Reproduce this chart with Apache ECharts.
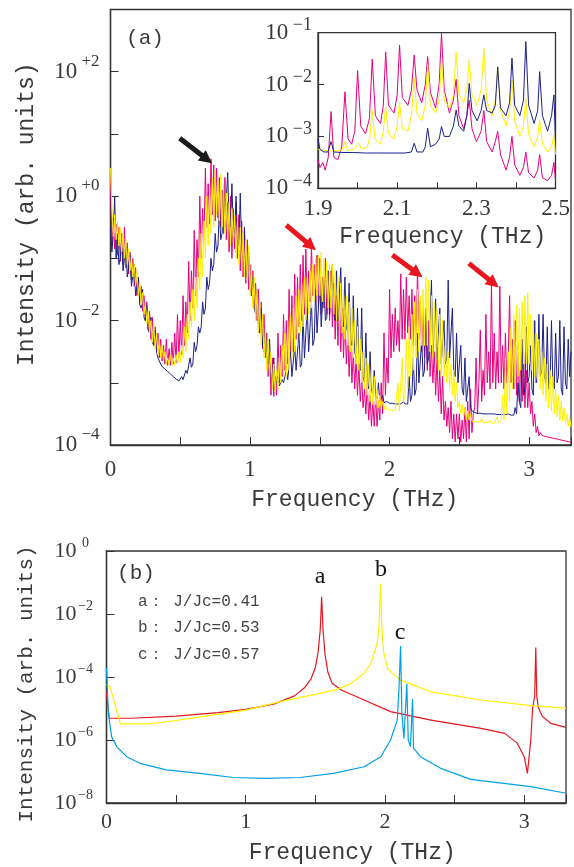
<!DOCTYPE html>
<html><head><meta charset="utf-8">
<script src="https://cdn.jsdelivr.net/npm/echarts@6/dist/echarts.min.js"></script>
<style>html,body{margin:0;padding:0;background:#fff}#c{width:574px;height:867px}</style>
</head><body><div id="c"></div>
<script>
// ---------- Panel (a): frequency grid (THz) and log10 intensities ----------
const freqA = [
0,0.01,0.02,0.03,0.04,0.05,0.06,0.07,0.08,0.09,
0.1,0.11,0.12,0.13,0.14,0.15,0.16,0.17,0.18,0.19,
0.2,0.21,0.22,0.23,0.24,0.25,0.26,0.27,0.28,0.29,
0.3,0.31,0.32,0.33,0.34,0.35,0.36,0.37,0.38,0.39,
0.4,0.41,0.42,0.43,0.44,0.45,0.46,0.47,0.48,0.49,
0.5,0.51,0.52,0.53,0.54,0.55,0.56,0.57,0.58,0.59,
0.6,0.61,0.62,0.63,0.64,0.65,0.66,0.67,0.68,0.69,
0.7,0.71,0.72,0.73,0.74,0.75,0.76,0.77,0.78,0.79,
0.8,0.81,0.82,0.83,0.84,0.85,0.86,0.87,0.88,0.89,
0.9,0.91,0.92,0.93,0.94,0.95,0.96,0.97,0.98,0.99,
1,1.01,1.02,1.03,1.04,1.05,1.06,1.07,1.08,1.09,
1.1,1.11,1.12,1.13,1.14,1.15,1.16,1.17,1.18,1.19,
1.2,1.21,1.22,1.23,1.24,1.25,1.26,1.27,1.28,1.29,
1.3,1.31,1.32,1.33,1.34,1.35,1.36,1.37,1.38,1.39,
1.4,1.41,1.42,1.43,1.44,1.45,1.46,1.47,1.48,1.49,
1.5,1.51,1.52,1.53,1.54,1.55,1.56,1.57,1.58,1.59,
1.6,1.61,1.62,1.63,1.64,1.65,1.66,1.67,1.68,1.69,
1.7,1.71,1.72,1.73,1.74,1.75,1.76,1.77,1.78,1.79,
1.8,1.81,1.82,1.83,1.84,1.85,1.86,1.87,1.88,1.89,
1.9,1.91,1.92,1.93,1.94,1.95,1.96,1.97,1.98,1.99,
2,2.01,2.02,2.03,2.04,2.05,2.06,2.07,2.08,2.09,
2.1,2.11,2.12,2.13,2.14,2.15,2.16,2.17,2.18,2.19,
2.2,2.21,2.22,2.23,2.24,2.25,2.26,2.27,2.28,2.29,
2.3,2.31,2.32,2.33,2.34,2.35,2.36,2.37,2.38,2.39,
2.4,2.41,2.42,2.43,2.44,2.45,2.46,2.47,2.48,2.49,
2.5,2.51,2.52,2.53,2.54,2.55,2.56,2.57,2.58,2.59,
2.6,2.61,2.62,2.63,2.64,2.65,2.66,2.67,2.68,2.69,
2.7,2.71,2.72,2.73,2.74,2.75,2.76,2.77,2.78,2.79,
2.8,2.81,2.82,2.83,2.84,2.85,2.86,2.87,2.88,2.89,
2.9,2.91,2.92,2.93,2.94,2.95,2.96,2.97,2.98,2.99,
3,3.01,3.02,3.03,3.04,3.05,3.06,3.07,3.08,3.09,
3.1,3.11,3.12,3.13,3.14,3.15,3.16,3.17,3.18,3.19,
3.2,3.21,3.22,3.23,3.24,3.25,3.26,3.27,3.28,3.29,
3.3];

const magentaLog = [
0.3,-0.8,-0.35,-0.85,-0.45,-0.95,-0.5,-1.05,-0.6,-1.1,
-0.5,-1.15,-0.75,-1.25,-0.9,-1.35,-1.0,-1.45,-1.15,-1.6,
-1.3,-1.7,-1.45,-1.85,-1.6,-2.0,-1.7,-2.15,-1.85,-2.3,
-1.95,-2.4,-2.1,-2.5,-2.2,-2.6,-2.3,-2.65,-2.4,-2.7,
-2.3,-2.72,-2.45,-2.72,-2.35,-2.7,-2.2,-2.68,-1.9,-2.6,
-2.0,-2.55,-1.6,-2.4,-1.7,-2.2,-1.05,-2.0,-1.2,-1.8,
-0.55,-1.6,-0.7,-1.3,0.0,-1.0,-0.2,-0.7,0.45,-0.5,
0.2,-0.45,0.6,-0.3,0.5,-0.4,0.45,-0.35,0.3,-0.5,
0.1,-0.6,0.3,-0.7,-0.1,-0.9,0.0,-1.0,-0.2,-0.85,
-0.1,-1.0,-0.3,-1.2,-0.4,-1.3,-0.6,-1.4,-0.7,-1.5,
-1.1,-1.6,-1.2,-1.8,-1.4,-2.0,-1.5,-2.2,-1.7,-2.45,
-1.9,-2.6,-2.2,-2.9,-2.5,-3.2,-2.6,-3.22,-2.9,-3.2,
-2.2,-3.0,-2.4,-2.9,-1.9,-2.8,-2.0,-2.7,-1.5,-2.5,
-1.6,-2.5,-1.25,-2.3,-1.3,-2.1,-1.1,-2.0,-0.95,-1.9,
-0.85,-1.8,-1.2,-1.7,-0.8,-1.6,-1.1,-1.7,-0.95,-1.8,
-1.0,-1.9,-1.3,-1.8,-1.0,-1.9,-1.25,-2.0,-1.2,-2.1,
-1.4,-2.3,-1.6,-2.4,-1.5,-2.5,-1.8,-2.6,-1.9,-2.7,
-2.2,-2.9,-2.3,-3.0,-2.5,-3.1,-2.6,-3.2,-2.7,-3.3,
-2.9,-3.4,-3.1,-3.5,-3.0,-3.6,-3.2,-3.7,-3.3,-3.7,
-3.2,-3.7,-3.3,-3.6,-3.0,-3.5,-2.2,-3.2,-2.6,-3.0,
-1.5,-2.6,-1.9,-2.5,-1.8,-2.4,-2.0,-2.5,-1.25,-2.3,
-1.5,-2.3,-1.3,-2.2,-1.6,-2.3,-1.5,-2.4,-1.6,-2.4,
-1.15,-2.3,-1.7,-2.5,-1.8,-2.6,-1.9,-2.8,-2.0,-2.9,
-2.4,-3.0,-2.5,-3.2,-2.6,-3.3,-2.8,-3.5,-2.9,-3.6,
-3.3,-3.7,-3.4,-3.8,-3.3,-3.9,-3.5,-3.95,-3.5,-3.9,
-3.5,-3.95,-3.6,-3.9,-3.4,-3.95,-3.3,-3.9,-3.1,-3.8,
-3.5,-3.4,-2.6,-3.5,-3.0,-2.15,-3.3,-2.8,-3.2,-1.9,
-3.0,-2.5,-3.1,-1.4,-3.0,-2.2,-3.1,-2.5,-3.0,-1.45,
-3.0,-2.4,-3.1,-2.2,-3.0,-2.6,-1.6,-3.0,-2.3,-3.1,
-2.0,-3.2,-2.4,-3.3,-2.6,-3.3,-2.5,-3.4,-2.8,-3.4,
-3.0,-3.5,-3.3,-3.7,-3.5,-3.8,-3.7,-3.85,-3.8,-3.84,
-3.85,-3.86,-3.86,-3.87,-3.87,-3.88,-3.88,-3.89,-3.89,-3.9,
-3.9,-3.91,-3.91,-3.92,-3.92,-3.93,-3.94,-3.94,-3.95,-3.95,
-3.96];

const yellowLog = [
0.45,-0.2,-0.65,-0.3,-0.7,-0.4,-0.8,-0.5,-0.9,-0.6,
-1.0,-0.7,-1.1,-0.85,-1.2,-0.95,-1.3,-1.1,-1.45,-1.2,
-1.6,-1.4,-1.75,-1.55,-1.9,-1.7,-2.05,-1.85,-2.2,-2.0,
-2.35,-2.05,-2.45,-2.2,-2.55,-2.3,-2.6,-2.4,-2.65,-2.5,
-2.7,-2.6,-2.72,-2.55,-2.72,-2.6,-2.72,-2.55,-2.7,-2.5,
-2.68,-2.4,-2.6,-2.1,-2.5,-1.9,-2.3,-1.7,-2.1,-1.5,
-2.0,-1.3,-1.8,-1.0,-1.5,-0.6,-1.3,-0.4,-1.0,0.0,
-0.8,0.1,-0.6,0.3,-0.5,0.42,-0.3,0.25,-0.4,0.35,
-0.5,0.2,-0.6,0.05,-0.7,-0.1,-0.8,-0.2,-0.75,-0.3,
-1.0,-0.4,-1.1,-0.5,-1.2,-0.6,-1.3,-0.7,-1.35,-0.8,
-1.6,-1.1,-1.8,-1.3,-2.0,-1.5,-2.2,-1.7,-2.4,-1.9,
-2.6,-2.1,-2.8,-2.3,-2.9,-2.5,-3.1,-2.7,-3.15,-2.8,
-3.1,-2.6,-3.0,-2.4,-2.9,-2.2,-2.9,-2.0,-2.8,-1.9,
-2.6,-1.8,-2.5,-1.6,-2.4,-1.5,-2.2,-1.4,-2.1,-1.3,
-2.0,-1.3,-1.9,-1.2,-1.8,-1.1,-1.7,-1.0,-1.6,-0.95,
-1.6,-0.9,-1.7,-1.0,-1.7,-1.05,-1.8,-1.1,-1.8,-1.1,
-1.9,-1.2,-2.0,-1.3,-2.1,-1.4,-2.2,-1.5,-2.3,-1.6,
-2.4,-1.7,-2.5,-1.8,-2.6,-2.0,-2.7,-2.1,-2.8,-2.3,
-3.0,-2.5,-3.1,-2.6,-3.2,-2.7,-3.3,-2.8,-3.35,-2.9,
-3.35,-3.1,-3.4,-3.2,-3.42,-3.3,-3.43,-3.35,-3.43,-3.4,
-3.44,-3.44,-3.44,-3.44,-3.44,-3.44,-3.0,-3.45,-3.44,-2.6,
-3.3,-3.2,-2.3,-3.1,-2.1,-2.9,-1.9,-2.8,-1.7,-2.6,
-1.5,-2.5,-1.6,-2.4,-1.5,-2.4,-1.3,-2.4,-1.35,-2.5,
-1.6,-2.6,-1.7,-2.7,-1.8,-2.8,-1.9,-2.9,-2.0,-2.9,
-2.4,-3.0,-2.5,-3.1,-2.7,-3.2,-2.8,-3.3,-3.0,-3.4,
-3.3,-3.5,-3.35,-3.55,-3.4,-3.6,-3.45,-3.6,-3.5,-3.62,
-3.62,-3.62,-3.62,-3.63,-3.63,-3.63,-3.58,-3.64,-3.64,-3.64,
-3.64,-3.64,-3.6,-3.65,-3.65,-3.65,-3.65,-3.55,-3.65,-3.65,
-3.6,-3.2,-3.6,-2.6,-3.5,-2.5,-3.3,-2.1,-3.1,-1.9,
-3.0,-1.75,-2.9,-1.8,-2.8,-1.7,-2.7,-1.6,-2.7,-1.55,
-2.7,-1.9,-2.8,-2.0,-2.9,-2.2,-3.0,-2.3,-3.1,-2.5,
-3.2,-2.6,-3.3,-2.7,-3.4,-2.8,-3.45,-2.9,-3.5,-3.1,
-3.55,-3.2,-3.6,-3.3,-3.62,-3.4,-3.65,-3.5,-3.7,-3.55,
-3.71];

const navyLog = [
-0.5,-0.9,-0.6,0.0,-1.0,-0.6,-1.1,-1.0,-0.7,-1.2,
-1.2,-0.8,-1.3,-1.3,-0.95,-1.45,-1.45,-1.1,-1.6,-1.6,
-1.3,-1.75,-1.8,-1.5,-1.95,-2.0,-1.75,-2.15,-2.2,-1.95,
-2.35,-2.4,-2.15,-2.5,-2.6,-2.65,-2.7,-2.74,-2.76,-2.78,
-2.8,-2.82,-2.84,-2.86,-2.88,-2.9,-2.92,-2.94,-2.96,-2.97,
-2.98,-2.9,-2.95,-2.93,-2.8,-2.85,-2.85,-2.6,-2.75,-2.7,
-2.35,-2.5,-2.4,-2.1,-2.2,-2.1,-1.7,-1.9,-1.8,-1.3,
-1.5,-1.4,-1.0,-1.2,-1.1,-0.6,-0.9,-0.8,-0.2,-0.7,
-0.6,0.1,-0.5,-0.5,0.38,-0.45,-0.5,0.2,-0.55,-0.6,
0.0,-0.7,-0.8,0.05,-0.9,-1.0,-0.5,-1.2,-1.3,-0.9,
-1.5,-1.6,-1.3,-1.8,-1.9,-1.5,-2.1,-2.2,-1.8,-2.4,
-2.5,-2.1,-2.6,-2.7,-2.3,-2.9,-3.0,-2.6,-3.06,-3.06,
-2.9,-3.05,-3.05,-2.95,-3.0,-3.0,-2.8,-2.95,-2.95,-2.5,
-2.9,-2.9,-2.4,-2.8,-2.8,-2.2,-2.75,-2.7,-1.9,-2.6,
-2.6,-1.8,-2.5,-2.5,-1.7,-2.4,-2.3,-1.5,-2.2,-2.2,
-1.4,-2.1,-2.1,-1.3,-2.0,-1.95,-1.2,-1.9,-1.9,-1.1,
-1.9,-2.0,-1.2,-2.0,-2.0,-1.15,-2.0,-2.1,-1.3,-2.1,
-2.2,-1.4,-2.3,-2.4,-1.6,-2.5,-2.6,-1.8,-2.7,-2.8,
-1.8,-2.9,-3.0,-2.2,-3.0,-3.1,-2.5,-3.1,-3.2,-2.8,
-3.2,-3.25,-3.0,-3.3,-3.3,-3.2,-3.32,-3.33,-3.3,-3.33,
-3.33,-3.33,-3.33,-3.33,-3.34,-3.34,-3.34,-3.34,-3.34,-3.34,
-3.3,-3.34,-3.34,-3.34,-2.9,-3.3,-3.2,-2.6,-3.2,-3.1,
-2.2,-3.0,-3.0,-2.3,-2.9,-2.8,-1.8,-2.7,-2.6,-2.0,
-1.35,-2.6,-2.6,-1.65,-2.6,-2.6,-1.8,-2.7,-2.7,-2.0,
-2.7,-2.6,-1.35,-2.6,-2.6,-1.8,-2.8,-2.9,-2.2,-3.0,
-3.0,-2.4,-3.1,-3.2,-2.6,-3.3,-3.3,-2.9,-3.4,-3.45,
-3.48,-3.48,-3.48,-3.49,-3.49,-3.49,-3.49,-3.5,-3.5,-3.5,
-3.5,-3.5,-3.5,-3.5,-3.5,-3.5,-3.51,-3.51,-3.51,-3.51,
-3.51,-3.51,-3.5,-3.51,-3.51,-3.5,-3.52,-3.52,-3.52,-3.52,
-3.4,-3.5,-3.0,-3.3,-3.4,-2.3,-3.2,-3.1,-2.1,-3.0,
-2.9,-2.4,-3.1,-3.2,-2.0,-3.0,-2.9,-1.9,-2.9,-2.8,
-1.9,-2.9,-3.0,-2.1,-3.1,-3.0,-2.0,-3.0,-3.1,-2.2,
-3.0,-2.9,-2.0,-3.1,-3.2,-2.1,-3.0,-3.1,-2.3,-2.9,
-2.5];

// ---------- Inset: [THz, log10 intensity] ----------
const insetMagenta = [[1.900,-3.45],[1.905,-3.6],[1.912,-3.5],[1.918,-3.65],[1.926,-3.4],[1.933,-2.52],[1.940,-3.4],[1.950,-3.45],[1.960,-3.2],[1.968,-2.14],[1.976,-3.05],[1.985,-3.15],[1.993,-2.9],[2.000,-1.73],[2.008,-2.8],[2.020,-2.95],[2.030,-2.65],[2.037,-1.51],[2.045,-2.6],[2.058,-2.75],[2.065,-2.4],[2.071,-1.37],[2.078,-2.4],[2.092,-2.55],[2.100,-2.2],[2.106,-1.24],[2.113,-2.25],[2.127,-2.4],[2.136,-2.1],[2.143,-1.43],[2.150,-2.1],[2.162,-2.35],[2.171,-2.0],[2.177,-1.46],[2.184,-2.15],[2.197,-2.45],[2.206,-2.0],[2.212,-1.01],[2.219,-2.1],[2.232,-2.55],[2.242,-2.3],[2.249,-1.9],[2.256,-2.6],[2.268,-2.85],[2.276,-2.6],[2.282,-2.3],[2.289,-2.85],[2.300,-3.1],[2.312,-2.9],[2.319,-2.5],[2.326,-3.1],[2.340,-3.3],[2.348,-3.1],[2.354,-2.9],[2.361,-3.35],[2.375,-3.65],[2.384,-3.4],[2.390,-3.0],[2.397,-3.55],[2.410,-3.75],[2.419,-3.6],[2.425,-3.3],[2.432,-3.7],[2.446,-3.8],[2.455,-3.65],[2.460,-3.35],[2.467,-3.8],[2.480,-3.85],[2.490,-3.75],[2.496,-3.5],[2.500,-3.85]];
const insetYellow = [[1.900,-3.25],[1.915,-3.27],[1.930,-3.28],[1.945,-3.28],[1.960,-3.27],[1.968,-3.1],[1.975,-3.27],[1.990,-3.25],[2.003,-3.13],[2.010,-3.25],[2.025,-3.2],[2.031,-3.0],[2.037,-2.5],[2.044,-3.05],[2.058,-3.15],[2.065,-2.9],[2.071,-2.43],[2.078,-2.95],[2.092,-3.05],[2.100,-2.8],[2.106,-2.33],[2.113,-2.85],[2.127,-2.9],[2.136,-2.6],[2.143,-1.88],[2.150,-2.55],[2.162,-2.7],[2.171,-2.4],[2.177,-1.62],[2.184,-2.4],[2.197,-2.55],[2.206,-2.3],[2.212,-1.53],[2.219,-2.3],[2.232,-2.45],[2.242,-2.2],[2.249,-1.37],[2.256,-2.2],[2.268,-2.35],[2.276,-2.1],[2.282,-1.53],[2.289,-2.2],[2.302,-2.4],[2.312,-2.1],[2.319,-1.30],[2.326,-2.3],[2.340,-2.6],[2.348,-2.3],[2.354,-1.66],[2.361,-2.5],[2.375,-2.8],[2.384,-2.5],[2.390,-1.91],[2.397,-2.7],[2.410,-3.0],[2.419,-2.8],[2.425,-2.27],[2.432,-2.95],[2.446,-3.2],[2.455,-3.0],[2.460,-2.68],[2.467,-3.15],[2.480,-3.3],[2.490,-3.2],[2.496,-2.97],[2.500,-3.35]];
const insetNavy = [[1.900,-3.05],[1.905,-3.25],[1.915,-3.3],[1.925,-3.3],[1.933,-3.1],[1.940,-3.3],[1.960,-3.31],[1.990,-3.31],[2.020,-3.32],[2.050,-3.32],[2.080,-3.32],[2.100,-3.32],[2.120,-3.32],[2.136,-3.3],[2.143,-3.13],[2.150,-3.3],[2.165,-3.3],[2.171,-3.2],[2.177,-2.84],[2.184,-3.2],[2.197,-3.15],[2.206,-3.05],[2.212,-2.81],[2.219,-3.0],[2.232,-3.0],[2.242,-2.8],[2.249,-2.49],[2.256,-2.8],[2.268,-2.9],[2.276,-2.6],[2.282,-1.98],[2.289,-2.5],[2.302,-2.7],[2.312,-2.5],[2.319,-2.2],[2.326,-2.5],[2.340,-2.55],[2.348,-2.4],[2.354,-1.66],[2.361,-2.45],[2.375,-2.6],[2.384,-2.35],[2.390,-1.49],[2.397,-2.4],[2.410,-2.6],[2.419,-2.3],[2.425,-1.17],[2.432,-2.4],[2.446,-2.75],[2.455,-2.5],[2.460,-1.75],[2.467,-2.6],[2.480,-2.9],[2.490,-2.6],[2.496,-2.2],[2.500,-3.1]];

// ---------- Panel (b): [THz, log10 intensity] ----------
const curveA041 = [[0,-4.47],[0.02,-5.31],[0.18,-5.31],[0.19,-5.27],[0.5,-5.24],[0.8,-5.13],[1.0,-5.03],[1.2,-4.86],[1.35,-4.6],[1.42,-4.35],[1.47,-4.05],[1.5,-3.7],[1.52,-3.2],[1.535,-2.5],[1.545,-1.45],[1.555,-2.5],[1.57,-3.3],[1.59,-3.85],[1.62,-4.2],[1.69,-4.42],[1.85,-4.73],[2.04,-5.1],[2.33,-5.37],[2.69,-5.63],[2.86,-5.79],[2.95,-6.1],[3.0,-6.53],[3.023,-7.06],[3.047,-6.0],[3.06,-5.0],[3.075,-4.6],[3.083,-3.06],[3.09,-4.6],[3.1,-4.95],[3.13,-5.25],[3.19,-5.47],[3.3,-5.6]];
const curveB053 = [[0,-4.25],[0.025,-4.3],[0.1,-5.49],[0.31,-5.49],[0.5,-5.38],[0.7,-5.25],[1.0,-5.05],[1.27,-4.76],[1.5,-4.55],[1.65,-4.4],[1.75,-4.22],[1.85,-3.88],[1.9,-3.55],[1.92,-3.27],[1.93,-3.33],[1.945,-2.9],[1.958,-2.3],[1.968,-1.03],[1.976,-2.3],[1.99,-3.2],[2.02,-3.75],[2.11,-4.1],[2.33,-4.47],[2.69,-4.73],[3.05,-4.91],[3.3,-4.99]];
const curveC057 = [[0,-3.72],[0.013,-5.14],[0.037,-5.9],[0.073,-6.21],[0.145,-6.53],[0.24,-6.74],[0.43,-6.95],[0.67,-7.06],[0.91,-7.19],[1.15,-7.22],[1.39,-7.19],[1.63,-7.06],[1.85,-6.85],[1.97,-6.53],[2.04,-6.0],[2.088,-5.37],[2.1,-4.41],[2.112,-3.02],[2.121,-5.15],[2.136,-5.95],[2.148,-6.0],[2.157,-4.22],[2.167,-6.0],[2.183,-6.21],[2.198,-4.71],[2.205,-6.26],[2.255,-6.53],[2.4,-6.9],[2.615,-7.25],[3.047,-7.48],[3.3,-7.69]];

// ---------- Annotations ----------
const arrowFrom = [[0.496,0.929],[1.259,-0.465],[2.02,-0.947],[2.568,-1.08]];
const arrowTo   = [[0.691,0.592],[1.437,-0.802],[2.199,-1.241],[2.746,-1.402]];
const legendLines = ['a\uFF1A J/Jc=0.41','b\uFF1A J/Jc=0.53','c\uFF1A J/Jc=0.57'];
const peakLabels = ['a','b','c'];

// ---------- Tick labels ----------
const mainXLabels = [0,1,2,3];
const insetXLabels = [1.9,2.1,2.3,2.5];
const mainYLabelExps = [-4,-2,0,2];
const insetYLabelExps = [-4,-3,-2,-1];
const bYLabelExps = [-8,-6,-4,-2,0];

const toPairs = (xs, ls) => xs.map((x,i)=>[x, Math.pow(10, ls[i])]);
const pairsPow = (arr) => arr.map(p=>[p[0], Math.pow(10, p[1])]);

const MONO = '"Liberation Mono", monospace';
const SERIF = '"Liberation Serif", serif';
const AX = '#333';
const TXT = '#3a3a3a';

function inList(v, list, tol){ return list.some(t=>Math.abs(t-v)<tol); }

const chart = echarts.init(document.getElementById('c'), null, {renderer:'canvas'});

const axisCommon = {
  axisLine:{show:true, lineStyle:{color:AX, width:1.3}},
  splitLine:{show:false},
};

const option = {
  animation:false,
  backgroundColor:'#fff',
  grid:[
    {left:110.5, top:9.5, width:461, height:435.5, show:true, borderColor:AX, borderWidth:1.3, backgroundColor:'transparent'},
    {left:318, top:32.7, width:237.5, height:155.6, show:true, borderColor:AX, borderWidth:1.3, backgroundColor:'#fff'},
    {left:106.5, top:551, width:459.5, height:252, show:true, borderColor:AX, borderWidth:1.3, backgroundColor:'transparent'}
  ],
  xAxis:[
    Object.assign({}, axisCommon, {
      gridIndex:0, type:'value', min:0, max:3.3, interval:0.5,
      axisTick:{inside:true, length:8, lineStyle:{color:AX}},
      axisLabel:{margin:13, fontSize:23, fontFamily:SERIF, color:TXT,
        formatter:v=> inList(v, mainXLabels, 1e-6) ? String(Math.round(v)) : ''},
      name:'Frequency (THz)', nameLocation:'middle', nameGap:43,
      nameTextStyle:{fontSize:23, fontFamily:MONO, color:TXT, padding:[0,0,0,28]}
    }),
    Object.assign({}, axisCommon, {
      gridIndex:1, type:'value', min:1.9, max:2.5, interval:0.1,
      axisTick:{inside:true, length:6, lineStyle:{color:AX}},
      axisLabel:{margin:9, fontSize:23, fontFamily:SERIF, color:TXT,
        formatter:v=> inList(v, insetXLabels, 1e-6) ? v.toFixed(1) : ''},
      name:'Frequency (THz)', nameLocation:'middle', nameGap:37,
      nameTextStyle:{fontSize:23, fontFamily:MONO, color:TXT, padding:[0,0,0,12]}
    }),
    Object.assign({}, axisCommon, {
      gridIndex:2, type:'value', min:0, max:3.3, interval:0.5,
      axisTick:{inside:true, length:8, lineStyle:{color:AX}},
      axisLabel:{margin:8, fontSize:22, fontFamily:SERIF, color:TXT,
        formatter:v=> inList(v, mainXLabels, 1e-6) ? String(Math.round(v)) : ''},
      name:'Frequency (THz)', nameLocation:'middle', nameGap:38,
      nameTextStyle:{fontSize:23, fontFamily:MONO, color:TXT, padding:[0,0,0,32]}
    })
  ],
  yAxis:[
    Object.assign({}, axisCommon, {
      gridIndex:0, type:'log', logBase:10, min:1e-4, max:1e3, splitNumber:7,
      axisTick:{inside:true, length:8, lineStyle:{color:AX}},
      axisLabel:{margin:11, color:TXT,
        formatter:v=>{ const e=Math.round(Math.log10(v)); if(!mainYLabelExps.includes(e)) return '';
          return '{b|10}{s| '+(e>=0?'+':'\u2212')+Math.abs(e)+'}'; },
        rich:{ b:{fontSize:23, fontFamily:SERIF, color:TXT, lineHeight:38},
               s:{fontSize:17, fontFamily:SERIF, color:TXT, lineHeight:17, verticalAlign:'top'} } },
      name:'Intensity (arb. units)', nameLocation:'middle', nameGap:72,
      nameTextStyle:{fontSize:23, fontFamily:MONO, color:TXT, padding:[0,0,0,26]}
    }),
    Object.assign({}, axisCommon, {
      gridIndex:1, type:'log', logBase:10, min:1e-4, max:1e-1, splitNumber:3,
      axisTick:{inside:true, length:6, lineStyle:{color:AX}},
      axisLabel:{margin:6, color:TXT,
        formatter:v=>{ const e=Math.round(Math.log10(v)); if(!insetYLabelExps.includes(e)) return '';
          return '{b|10}{s| \u2212'+Math.abs(e)+'}'; },
        rich:{ b:{fontSize:23, fontFamily:SERIF, color:TXT, lineHeight:33},
               s:{fontSize:18, fontFamily:SERIF, color:TXT, lineHeight:16, verticalAlign:'top'} } }
    }),
    Object.assign({}, axisCommon, {
      gridIndex:2, type:'log', logBase:100, min:1e-8, max:1, splitNumber:4,
      axisTick:{inside:true, length:8, lineStyle:{color:AX}},
      axisLabel:{margin:12, color:TXT,
        formatter:v=>{ const e=Math.round(Math.log10(v)); if(!bYLabelExps.includes(e)) return '';
          return '{b|10}{s|'+(e<0?'\u2212':'')+Math.abs(e)+'}'; },
        rich:{ b:{fontSize:22, fontFamily:SERIF, color:TXT, lineHeight:30},
               s:{fontSize:14, fontFamily:SERIF, color:TXT, lineHeight:16, verticalAlign:'top', width:18, align:'left'} } },
      name:'Intensity (arb. units)', nameLocation:'middle', nameGap:70,
      nameTextStyle:{fontSize:21, fontFamily:MONO, color:TXT, padding:[0,14,0,0]}
    })
  ],
  series:[
    {type:'line', name:'magenta', xAxisIndex:0, yAxisIndex:0, data:toPairs(freqA, magentaLog),
     showSymbol:false, symbol:'none', lineStyle:{color:'#E4007F', width:1}, z:2,
     markLine:{silent:true, symbol:['none','triangle'], symbolSize:[13,13], label:{show:false}, emphasis:{disabled:true},
       data: arrowFrom.map((f,i)=>[
         {coord:[f[0], Math.pow(10,f[1])], lineStyle:{color: i===0?'#1a1a1a':'#E8161E', width:5, type:'solid'}, itemStyle:{color: i===0?'#1a1a1a':'#E8161E'}},
         {coord:[arrowTo[i][0], Math.pow(10,arrowTo[i][1])]}
       ])}},
    {type:'line', name:'navy', xAxisIndex:0, yAxisIndex:0, data:toPairs(freqA, navyLog),
     showSymbol:false, symbol:'none', lineStyle:{color:'#1D2088', width:1}, z:3},
    {type:'line', name:'yellow', xAxisIndex:0, yAxisIndex:0, data:toPairs(freqA, yellowLog),
     showSymbol:false, symbol:'none', lineStyle:{color:'#FFF000', width:1}, z:4},

    {type:'line', xAxisIndex:1, yAxisIndex:1, data:pairsPow(insetMagenta),
     showSymbol:false, symbol:'none', lineStyle:{color:'#E4007F', width:1}, z:5},
    {type:'line', xAxisIndex:1, yAxisIndex:1, data:pairsPow(insetYellow),
     showSymbol:false, symbol:'none', lineStyle:{color:'#FFF000', width:1}, z:6},
    {type:'line', xAxisIndex:1, yAxisIndex:1, data:pairsPow(insetNavy),
     showSymbol:false, symbol:'none', lineStyle:{color:'#1D2088', width:1}, z:7},

    {type:'line', xAxisIndex:2, yAxisIndex:2, data:pairsPow(curveA041),
     showSymbol:false, symbol:'none', lineStyle:{color:'#E8161E', width:1.2}},
    {type:'line', xAxisIndex:2, yAxisIndex:2, data:pairsPow(curveB053),
     showSymbol:false, symbol:'none', lineStyle:{color:'#FFF000', width:1.2}},
    {type:'line', xAxisIndex:2, yAxisIndex:2, data:pairsPow(curveC057),
     showSymbol:false, symbol:'none', lineStyle:{color:'#00A0E9', width:1.2}}
  ],
  graphic:[
    {type:'text', x:145, y:38, style:{text:'(a)', font:'21px '+MONO, fill:TXT, align:'center', verticalAlign:'middle'}},
    {type:'text', x:136, y:573, style:{text:'(b)', font:'21px '+MONO, fill:TXT, align:'center', verticalAlign:'middle'}},
    {type:'text', x:138, y:602, style:{text:legendLines[0], font:'16px '+MONO, fill:'#444', align:'left', verticalAlign:'middle'}},
    {type:'text', x:138, y:628, style:{text:legendLines[1], font:'16px '+MONO, fill:'#444', align:'left', verticalAlign:'middle'}},
    {type:'text', x:138, y:655, style:{text:legendLines[2], font:'16px '+MONO, fill:'#444', align:'left', verticalAlign:'middle'}},
    {type:'text', x:320, y:577, style:{text:peakLabels[0], font:'24px '+SERIF, fill:'#111', align:'center', verticalAlign:'middle'}},
    {type:'text', x:381, y:570, style:{text:peakLabels[1], font:'24px '+SERIF, fill:'#111', align:'center', verticalAlign:'middle'}},
    {type:'text', x:400, y:633, style:{text:peakLabels[2], font:'24px '+SERIF, fill:'#111', align:'center', verticalAlign:'middle'}}
  ]
};
chart.setOption(option);
</script>
</body></html>
